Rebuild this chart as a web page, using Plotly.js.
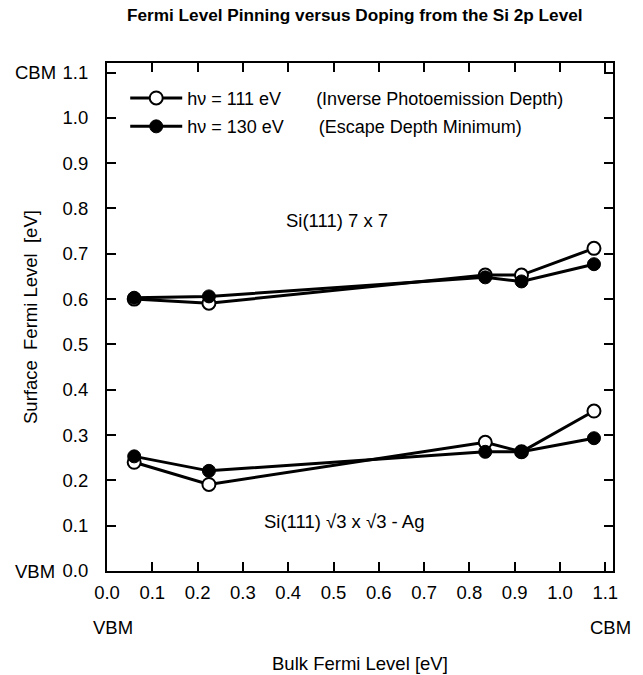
<!DOCTYPE html>
<html>
<head>
<meta charset="utf-8">
<script src="https://cdn.plot.ly/plotly-3.0.1.min.js"></script>
<style>html,body{margin:0;padding:0;background:#fff;}#chart{width:643px;height:675px;}</style>
</head>
<body>
<div id="chart"></div>
<script>
// Bulk Fermi level positions (eV)
const bulkFermi = [0.06, 0.225, 0.835, 0.915, 1.075];
// Si(111) 7x7
const s7x7_111eV = [0.600, 0.591, 0.653, 0.653, 0.712];
const s7x7_130eV = [0.603, 0.606, 0.648, 0.639, 0.677];
// Si(111) sqrt3 x sqrt3 - Ag
const sAg_111eV = [0.240, 0.191, 0.284, 0.263, 0.353];
const sAg_130eV = [0.253, 0.221, 0.263, 0.263, 0.293];
const NB = '\u00a0';
const legendNames = [
  'h\u03bd' + NB + '=' + NB + '111' + NB + 'eV' + NB.repeat(7) + '(Inverse Photoemission Depth)',
  'h\u03bd' + NB + '=' + NB + '130' + NB + 'eV' + NB.repeat(7) + '(Escape Depth Minimum)'
];
const tickVals = [0, 0.1, 0.2, 0.3, 0.4, 0.5, 0.6, 0.7, 0.8, 0.9, 1.0, 1.1];
const tickText = ['0.0', '0.1', '0.2', '0.3', '0.4', '0.5', '0.6', '0.7', '0.8', '0.9', '1.0', '1.1'];

const FONT = 'Liberation Sans, Arial, Helvetica, sans-serif';
const FS = 18.5;
const openMarker = {symbol: 'circle', size: 13, color: '#fff', line: {color: '#000', width: 2}};
const fullMarker = {symbol: 'circle', size: 13, color: '#000', line: {color: '#000', width: 1}};
const lineStyle = {color: '#000', width: 3};

const traces = [
  {x: bulkFermi, y: s7x7_111eV, mode: 'lines+markers', marker: openMarker, line: lineStyle, name: legendNames[0], legendgroup: 'a', showlegend: true},
  {x: bulkFermi, y: s7x7_130eV, mode: 'lines+markers', marker: fullMarker, line: lineStyle, name: legendNames[1], legendgroup: 'b', showlegend: true},
  {x: bulkFermi, y: sAg_111eV, mode: 'lines+markers', marker: openMarker, line: lineStyle, name: legendNames[0], legendgroup: 'a', showlegend: false},
  {x: bulkFermi, y: sAg_130eV, mode: 'lines+markers', marker: fullMarker, line: lineStyle, name: legendNames[1], legendgroup: 'b', showlegend: false}
];

const axisCommon = {
  showgrid: false, zeroline: false, showline: true, linecolor: '#000', linewidth: 2,
  mirror: 'allticks', ticks: 'inside', ticklen: 9, tickwidth: 2, tickcolor: '#000',
  tickvals: tickVals, ticktext: tickText, tickfont: {family: FONT, size: FS, color: '#000'}
};

const txt = (extra) => Object.assign({showarrow: false, xanchor: 'center', yanchor: 'middle', font: {family: FONT, size: FS, color: '#000'}}, extra);

const layout = {
  width: 643, height: 675,
  margin: {l: 107, r: 30, t: 63, b: 104},
  paper_bgcolor: '#fff', plot_bgcolor: '#fff',
  font: {family: FONT, color: '#000'},
  showlegend: true,
  legend: {x: 0.036, y: 0.967, xanchor: 'left', yanchor: 'top', bgcolor: 'rgba(0,0,0,0)',
           font: {family: FONT, size: 18, color: '#000'}, tracegroupgap: 2, itemwidth: 52, traceorder: 'grouped'},
  xaxis: Object.assign({}, axisCommon, {range: [0, 1.117], ticklabelstandoff: 4}),
  yaxis: Object.assign({}, axisCommon, {range: [0, 1.121], ticklabelstandoff: 13}),
  annotations: [
    txt({text: '<b>Fermi Level Pinning versus Doping from the Si 2p Level</b>', xref: 'paper', yref: 'paper', x: 0.49, y: 1, yshift: 48, font: {family: FONT, size: 17.2, color: '#000'}}),
    txt({text: 'Si(111)' + NB + '7' + NB + 'x' + NB + '7', xref: 'x', yref: 'y', x: 0.507, y: 0.773}),
    txt({text: 'Si(111) \u221a3 x \u221a3 - Ag', xref: 'x', yref: 'y', x: 0.524, y: 0.11}),
    txt({text: 'CBM', xref: 'paper', yref: 'y', x: 0, xshift: -72, y: 1.1}),
    txt({text: 'VBM', xref: 'paper', yref: 'y', x: 0, xshift: -72, y: 0}),
    txt({text: 'VBM', xref: 'x', yref: 'paper', x: 0, xshift: 6, y: 0, yshift: -56}),
    txt({text: 'CBM', xref: 'x', yref: 'paper', x: 1.1, xshift: 5, y: 0, yshift: -56}),
    txt({text: 'Bulk Fermi Level [eV]', xref: 'paper', yref: 'paper', x: 0.5, y: 0, yshift: -92}),
    txt({text: 'Surface' + NB + NB + 'Fermi Level' + NB + NB + '[eV]', xref: 'paper', yref: 'paper', x: 0, xshift: -77, y: 0.5, textangle: -90})
  ]
};

Plotly.newPlot('chart', traces, layout, {displayModeBar: false, staticPlot: true});
</script>
</body>
</html>
